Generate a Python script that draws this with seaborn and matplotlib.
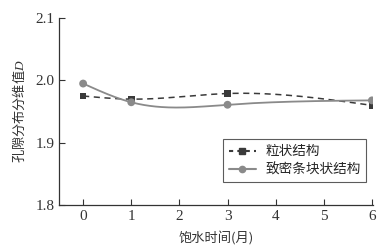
import numpy as np
import pandas as pd
import matplotlib
matplotlib.use("Agg")
import matplotlib.pyplot as plt
from matplotlib.lines import Line2D
import seaborn as sns

# Data
months = [0, 1, 3, 6]
granular = [1.975, 1.970, 1.979, 1.960]     # 粒状结构
dense_block = [1.995, 1.965, 1.961, 1.968]  # 致密条块状结构
labels = ["粒状结构", "致密条块状结构"]
x_ticks = [0, 1, 2, 3, 4, 5, 6]
y_ticks = [1.8, 1.9, 2.0, 2.1]


def natural_spline(x, y, n=200):
    # natural cubic spline through the measured points
    x = np.asarray(x, float)
    y = np.asarray(y, float)
    k = len(x)
    h = np.diff(x)
    A = np.zeros((k, k))
    b = np.zeros(k)
    A[0, 0] = A[-1, -1] = 1
    for i in range(1, k - 1):
        A[i, i - 1] = h[i - 1]
        A[i, i] = 2 * (h[i - 1] + h[i])
        A[i, i + 1] = h[i]
        b[i] = 6 * ((y[i + 1] - y[i]) / h[i] - (y[i] - y[i - 1]) / h[i - 1])
    m = np.linalg.solve(A, b)
    xs = np.linspace(x[0], x[-1], n)
    idx = np.clip(np.searchsorted(x, xs) - 1, 0, k - 2)
    x0, x1 = x[idx], x[idx + 1]
    hh = x1 - x0
    ys = (m[idx] * (x1 - xs) ** 3 / (6 * hh) + m[idx + 1] * (xs - x0) ** 3 / (6 * hh)
          + (y[idx] / hh - m[idx] * hh / 6) * (x1 - xs)
          + (y[idx + 1] / hh - m[idx + 1] * hh / 6) * (xs - x0))
    return xs, ys


sns.set_style("ticks")
plt.rcParams["font.family"] = ["Liberation Serif", "Noto Sans CJK SC"]
plt.rcParams["mathtext.fontset"] = "custom"
plt.rcParams["mathtext.it"] = "Liberation Serif:italic"

fig = plt.figure(figsize=(3.86, 2.48), dpi=100)
ax = fig.add_axes([0.153, 0.173, 0.813, 0.754])

sq_color = "#3a3a3a"
ci_color = "#8a8a8a"

xs, ys = natural_spline(months, granular)
sns.lineplot(x=xs, y=ys, ax=ax, color=sq_color, linestyle=(0, (4, 3)), linewidth=1.1)
xs, ys = natural_spline(months, dense_block)
sns.lineplot(x=xs, y=ys, ax=ax, color=ci_color, linewidth=1.3)

pts = pd.DataFrame({"month": months, "granular": granular, "dense": dense_block})
sns.scatterplot(data=pts, x="month", y="granular", ax=ax, marker="s", s=22,
                color=sq_color, edgecolor="none", zorder=3)
sns.scatterplot(data=pts, x="month", y="dense", ax=ax, marker="o", s=32,
                color=ci_color, edgecolor="none", zorder=3)

ax.set_xlim(-0.5, 6.02)
ax.set_ylim(1.8, 2.1)
ax.set_xticks(x_ticks)
ax.set_yticks(y_ticks)
ax.set_yticklabels([f"{v:.1f}" for v in y_ticks])
ax.tick_params(direction="in", length=4, width=0.8, labelsize=11, colors="#333333")
for s in ["top", "right"]:
    ax.spines[s].set_visible(False)
for s in ["left", "bottom"]:
    ax.spines[s].set_color("#333333")
    ax.spines[s].set_linewidth(0.9)

ax.set_xlabel("饱水时间(月)", fontsize=9.5, color="#333333", labelpad=6,
              family=["Noto Sans CJK SC", "Liberation Serif"])
ax.set_ylabel("孔隙分布分维值$D$", fontsize=9.5, color="#333333", labelpad=6,
              family=["Noto Sans CJK SC", "Liberation Serif"])

handles = [
    Line2D([], [], color=sq_color, linestyle=(0, (2, 2)), marker="s", markersize=4),
    Line2D([], [], color=ci_color, linestyle="-", marker="o", markersize=4.5),
]
leg = ax.legend(handles, labels, loc="upper right", bbox_to_anchor=(1.0, 0.39),
                frameon=True, fancybox=False, handlelength=2.0,
                handletextpad=0.7, borderpad=0.4, labelspacing=0.3,
                prop={"family": ["Noto Sans CJK SC"], "size": 9.8})
leg.get_frame().set_edgecolor("#333333")
leg.get_frame().set_linewidth(0.8)

fig.savefig("out.png", dpi=100)
